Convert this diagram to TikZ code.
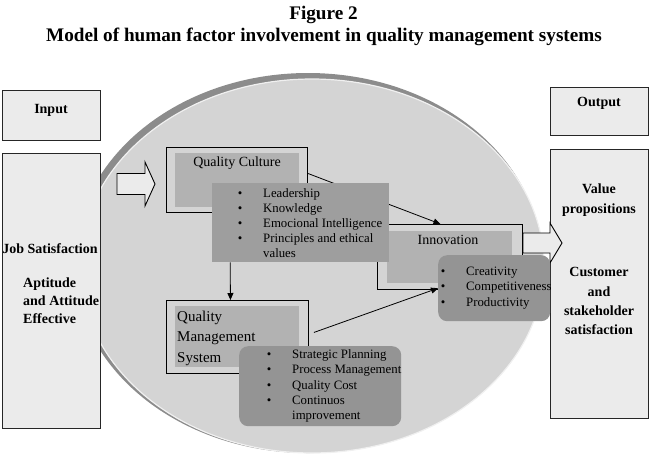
\documentclass[tikz,border=0pt]{standalone}
\usepackage{fontspec}
\setmainfont{Liberation Serif}
\usetikzlibrary{arrows.meta}
\definecolor{ellfill}{gray}{0.83}
\definecolor{ringc}{gray}{0.55}
\definecolor{innerc}{gray}{0.70}
\definecolor{listA}{gray}{0.62}
\definecolor{listB}{gray}{0.58}
\definecolor{ioc}{gray}{0.92}
\begin{document}
\begin{tikzpicture}[x=1pt,y=-1pt,
  iobox/.style={draw=black!85, line width=1.1pt, fill=ioc, inner sep=0, anchor=north west},
  outerbox/.style={draw=black, line width=0.9pt, inner sep=0, anchor=north west},
  innerbox/.style={fill=innerc, inner sep=0, anchor=north west},
  listrect/.style={fill=listA, inner sep=0, anchor=north west},
  listround/.style={fill=listB, rounded corners=9pt, inner sep=0, anchor=north west},
  boldtxt/.style={font=\fontsize{14}{16}\selectfont\bfseries, inner sep=0, anchor=base},
  headtxt/.style={font=\fontsize{14}{16}\selectfont, inner sep=0, anchor=base},
  qmstxt/.style={font=\fontsize{15}{17}\selectfont, inner sep=0, anchor=base west},
  itemtxt/.style={font=\fontsize{12.8}{15}\selectfont, inner sep=0, anchor=base west},
  bul/.style={font=\fontsize{12.8}{15}\selectfont, inner sep=0, anchor=base},
  conn/.style={line width=0.8pt, -{Triangle[length=7pt,width=6pt]}},
  blockarrow/.style={draw=black, line width=0.9pt, fill=ioc, line join=miter}
]
\useasboundingbox (0,0) rectangle (651,467);
% titles
\node[anchor=base, inner sep=0, font=\fontsize{19.2}{22}\selectfont\bfseries] (fig) at (323.5,19) {Figure 2};
\node[anchor=base, inner sep=0, font=\fontsize{19.2}{22}\selectfont\bfseries] (title) at (324,41.5) {Model of human factor involvement in quality management systems};
% ellipse
\fill[ringc] (308,263) ellipse [x radius=234pt, y radius=190pt];
\draw[fill=ellfill, draw=gray!12, line width=1.2pt] (312,266) ellipse [x radius=232pt, y radius=187pt];
% input / output
\node[iobox, minimum width=98pt, minimum height=50pt] (input) at (2,90) {};
\node[boldtxt] (inputtxt) at (51,113) {Input};
\node[iobox, minimum width=98pt, minimum height=275pt] (job) at (2,153) {};
\node[boldtxt] (jobtxt) at (50,253) {Job Satisfaction};
\node[boldtxt, anchor=base west] (apt1) at (23,287) {Aptitude};
\node[boldtxt, anchor=base west] (apt2) at (23,305.5) {and Attitude};
\node[boldtxt, anchor=base west] (apt3) at (23,323.5) {Effective};
\node[iobox, minimum width=98pt, minimum height=48pt] (output) at (550,87) {};
\node[boldtxt] (outputtxt) at (599,106) {Output};
\node[iobox, minimum width=98pt, minimum height=269pt] (value) at (550,149) {};
\node[boldtxt] (v1) at (599,193) {Value};
\node[boldtxt] (v2) at (599,213) {propositions};
\node[boldtxt] (v3) at (599,276) {Customer};
\node[boldtxt] (v4) at (599,296) {and};
\node[boldtxt] (v5) at (599,315) {stakeholder};
\node[boldtxt] (v6) at (599,334) {satisfaction};
% block arrows
\draw[blockarrow] (117,173.5) -- (145,173.5) -- (145,162) -- (155,184) -- (145,206) -- (145,194.5) -- (117,194.5) -- cycle;
\draw[blockarrow] (523,233) -- (550,233) -- (550,223) -- (562,243) -- (550,263) -- (550,253) -- (523,253) -- cycle;
% quality culture
\node[outerbox, minimum width=141pt, minimum height=65pt] (qcout) at (166,147) {};
\node[innerbox, minimum width=124pt, minimum height=54pt] (qcin) at (175,153) {};
\node[headtxt] (qctxt) at (237,166) {Quality Culture};
% innovation
\node[outerbox, minimum width=145pt, minimum height=65pt] (innout) at (377,224) {};
\node[innerbox, minimum width=125pt, minimum height=52pt] (innin) at (387,231) {};
\node[headtxt] (inntxt) at (448,244) {Innovation};
% arrow QC -> innovation
\draw[conn] ([yshift=6.5pt]qcout.east) -- ([xshift=-9.5pt]innout.north);
% QC list
\node[listrect, minimum width=177pt, minimum height=79pt] (qclist) at (212,183) {};
\node[bul] (qb1) at (240,197) {•};
\node[bul] (qb2) at (240,212) {•};
\node[bul] (qb3) at (240,227) {•};
\node[bul] (qb4) at (240,242.5) {•};
\node[itemtxt] (qi1) at (263,197) {Leadership};
\node[itemtxt] (qi2) at (263,212) {Knowledge};
\node[itemtxt] (qi3) at (263,227) {Emocional Intelligence};
\node[itemtxt] (qi4) at (263,242.5) {Principles and ethical};
\node[itemtxt] (qi5) at (263,257.5) {values};
% innovation list
\node[listround, minimum width=112pt, minimum height=66pt] (innlist) at (438,255) {};
\node[bul] (ib1) at (443,275) {•};
\node[bul] (ib2) at (443,290.5) {•};
\node[bul] (ib3) at (443,306) {•};
\node[itemtxt] (ii1) at (466,275) {Creativity};
\node[itemtxt] (ii2) at (466,290.5) {Competitiveness};
\node[itemtxt] (ii3) at (466,306) {Productivity};
% QMS
\node[outerbox, minimum width=142pt, minimum height=73pt] (qmsout) at (166,300) {};
\node[innerbox, minimum width=124pt, minimum height=61pt] (qmsin) at (175,306) {};
\node[qmstxt] (qm1) at (177,321) {Quality};
\node[qmstxt] (qm2) at (177,341.5) {Management};
\node[qmstxt] (qm3) at (177,362) {System};
% QMS list
\node[listround, minimum width=162pt, minimum height=80pt] (qmslist) at (239,346) {};
\node[bul] (mb1) at (269,358) {•};
\node[bul] (mb2) at (269,373.5) {•};
\node[bul] (mb3) at (269,389) {•};
\node[bul] (mb4) at (269,404) {•};
\node[itemtxt] (mi1) at (292,358) {Strategic Planning};
\node[itemtxt] (mi2) at (292,373.5) {Process Management};
\node[itemtxt] (mi3) at (292,389) {Quality Cost};
\node[itemtxt] (mi4) at (292,404) {Continuos};
\node[itemtxt] (mi5) at (292,419) {improvement};
% connectors
\draw[conn] ([xshift=-70.5pt]qclist.south) -- ([xshift=-7pt]qmsout.north);
\draw[conn] ([shift={(5pt,4.5pt)}]qmsout.east) -- (innlist.west);
\end{tikzpicture}
\end{document}
